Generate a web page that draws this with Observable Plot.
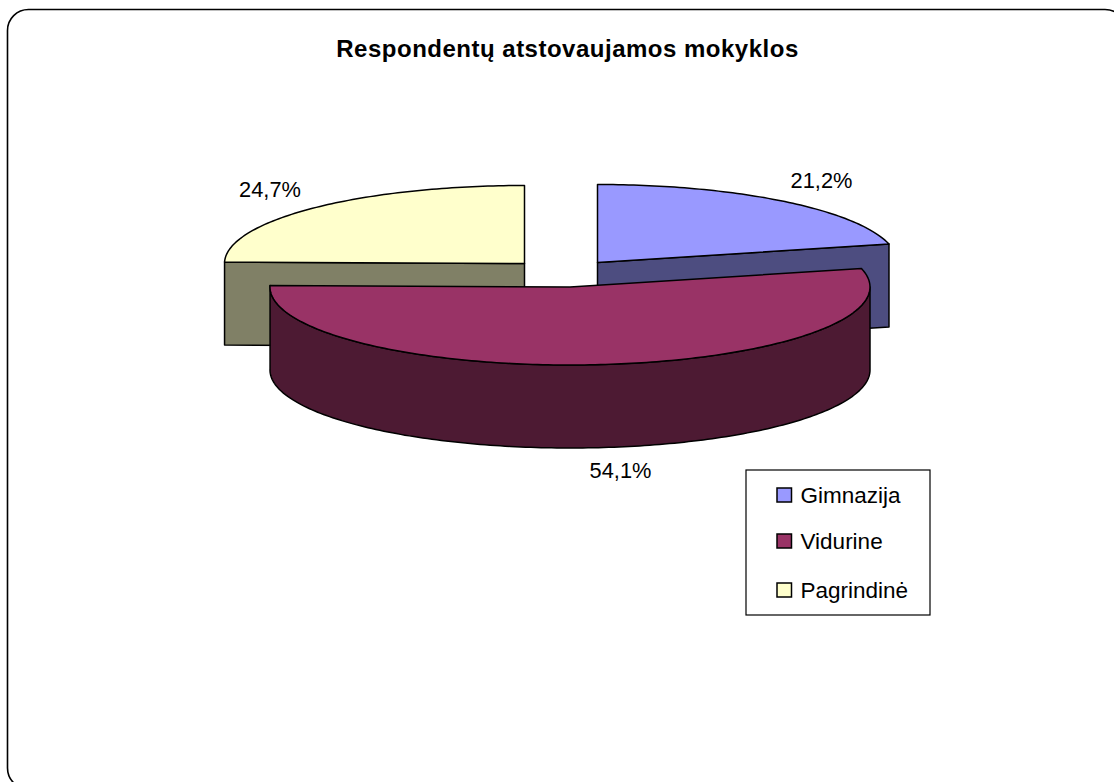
<!DOCTYPE html>
<html>
<head>
<meta charset="utf-8">
<script src="https://cdn.jsdelivr.net/npm/d3@7"></script>
<script src="https://cdn.jsdelivr.net/npm/@observablehq/plot@0.6"></script>
<style>
html,body{margin:0;padding:0;background:#fff;overflow:hidden}
.chart-title{letter-spacing:0.5px}
</style>
</head>
<body>
<div id="chart"></div>
<script>
const title = "Respondentų atstovaujamos mokyklos";
const categories = ["Gimnazija", "Vidurine", "Pagrindinė"];
const shares = [21.2, 54.1, 24.7];
const shareLabels = ["21,2%", "54,1%", "24,7%"];
const topColors = ["#9999FF", "#993366", "#FFFFCC"];
const sideColors = ["#4D4D80", "#4D1A33", "#808066"];

// layout constants
const W = 1114, H = 782;
const RX = 300, RY = 78, DEPTH = 83;
const centers = [[597, 262], [569.5, 286.5], [524, 263]];
const labelAt = [[821, 181], [620, 471], [269.5, 190]];
const swatchY = [488, 534, 583];

const rad = d => d * Math.PI / 180;
// slice angles from the values, clockwise from twelve o'clock
let acc = 0;
const slices = categories.map((c, i) => {
  const a0 = acc; acc += shares[i] / d3.sum(shares) * 360;
  return {category: c, i, a0, a1: acc, c: centers[i]};
});
const pt = (s, a, dz = 0) => [s.c[0] + RX * Math.sin(rad(a)), s.c[1] - RY * Math.cos(rad(a)) + dz];
const arc = (s, a0, a1, dz = 0) => {
  const n = Math.max(2, Math.ceil(Math.abs(a1 - a0)));
  return d3.range(n + 1).map(k => pt(s, a0 + (a1 - a0) * k / n, dz));
};
const topFace = s => [s.c, ...arc(s, s.a0, s.a1), s.c];
const radial = (s, a) => {
  const e = pt(s, a);
  return [s.c, e, [e[0], e[1] + DEPTH], [s.c[0], s.c[1] + DEPTH], s.c];
};
const wall = s => {
  const a0 = Math.max(s.a0, 90), a1 = s.a1;
  const p = [...arc(s, a0, a1), ...arc(s, a1, a0, DEPTH)];
  return [...p, p[0]];
};
const face = (pts, fill) => Plot.line(pts, {
  x: d => d[0], y: d => d[1], fill, stroke: "#000", strokeWidth: 1.5, curve: "linear"
});

const [blue, red, yellow] = slices;
const legendRows = categories.map((c, i) => ({c, y: swatchY[i]}));

const plot = Plot.plot({
  width: W, height: H,
  margin: 0,
  x: {domain: [0, W], range: [0, W], axis: null},
  y: {domain: [0, H], range: [0, H], axis: null},
  color: {domain: categories, range: topColors},
  style: {background: "#fff", fontFamily: "'Liberation Sans', Arial, sans-serif", color: "#000"},
  marks: [
    Plot.rect([0], {x1: 7.5, x2: 1126, y1: 9.5, y2: 789, rx: 21, ry: 21, fill: "#fff", stroke: "#000", strokeWidth: 1.6}),
    Plot.text([title], {x: 567, y: 48.5, text: d => d, fontSize: 24, fontWeight: "bold", fill: "#000", textAnchor: "middle", className: "chart-title"}),
    // yellow slice
    face(radial(yellow, yellow.a0), sideColors[2]),
    face(topFace(yellow), topColors[2]),
    // blue slice
    face(radial(blue, blue.a1), sideColors[0]),
    face(topFace(blue), topColors[0]),
    // red slice
    face(wall(red), sideColors[1]),
    face(topFace(red), topColors[1]),
    // value labels
    Plot.text(shareLabels, {x: (d, i) => labelAt[i][0], y: (d, i) => labelAt[i][1], text: d => d, fontSize: 21.8, fill: "#000", textAnchor: "middle"}),
    // legend
    Plot.rect([0], {x1: 746, x2: 930, y1: 470, y2: 615, fill: "#fff", stroke: "#000", strokeWidth: 1.2}),
    Plot.rect(legendRows, {x1: 777, x2: 791.5, y1: d => d.y, y2: d => d.y + 14, fill: d => d.c, stroke: "#000", strokeWidth: 1.5}),
    Plot.text(legendRows, {x: 800, y: d => d.y + 7.5, text: d => d.c, fontSize: 22.5, fill: "#000", textAnchor: "start"})
  ]
});
document.getElementById("chart").appendChild(plot);
</script>
</body>
</html>
